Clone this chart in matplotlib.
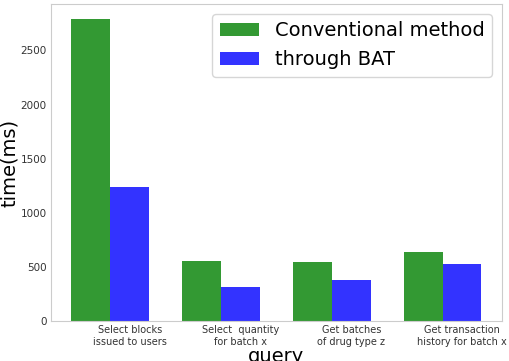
import numpy as np
import matplotlib
matplotlib.use("Agg")
import matplotlib.pyplot as plt

# data
queries = ["Select blocks\nissued to users", "Select  quantity\nfor batch x",
           "Get batches\nof drug type z", "Get transaction\nhistory for batch x"]
conventional = [2790, 558, 543, 636]
through_bat = [1234, 312, 380, 528]

index = np.arange(len(queries))
bar_width = 0.35

fig = plt.figure(figsize=(5.1, 3.61), dpi=100)
ax = fig.add_axes([0.1, 0.111, 0.884, 0.878])

ax.bar(index, conventional, bar_width, color='g', alpha=0.8, label='Conventional method')
ax.bar(index + bar_width, through_bat, bar_width, color='b', alpha=0.8, label='through BAT')

ax.set_xticks(index + bar_width)
ax.set_xticklabels(queries, fontsize=7, color='#333333')
ax.tick_params(axis='y', labelsize=7.5, labelcolor='#333333')
ax.tick_params(length=0, pad=3)
for s in ax.spines.values():
    s.set_color('#cccccc')

ax.set_xlabel('query', fontsize=14, labelpad=0)
ax.set_ylabel('time(ms)', fontsize=14, labelpad=1)
ax.legend(fontsize=14, loc='upper right')

fig.savefig('out.png', dpi=100)
